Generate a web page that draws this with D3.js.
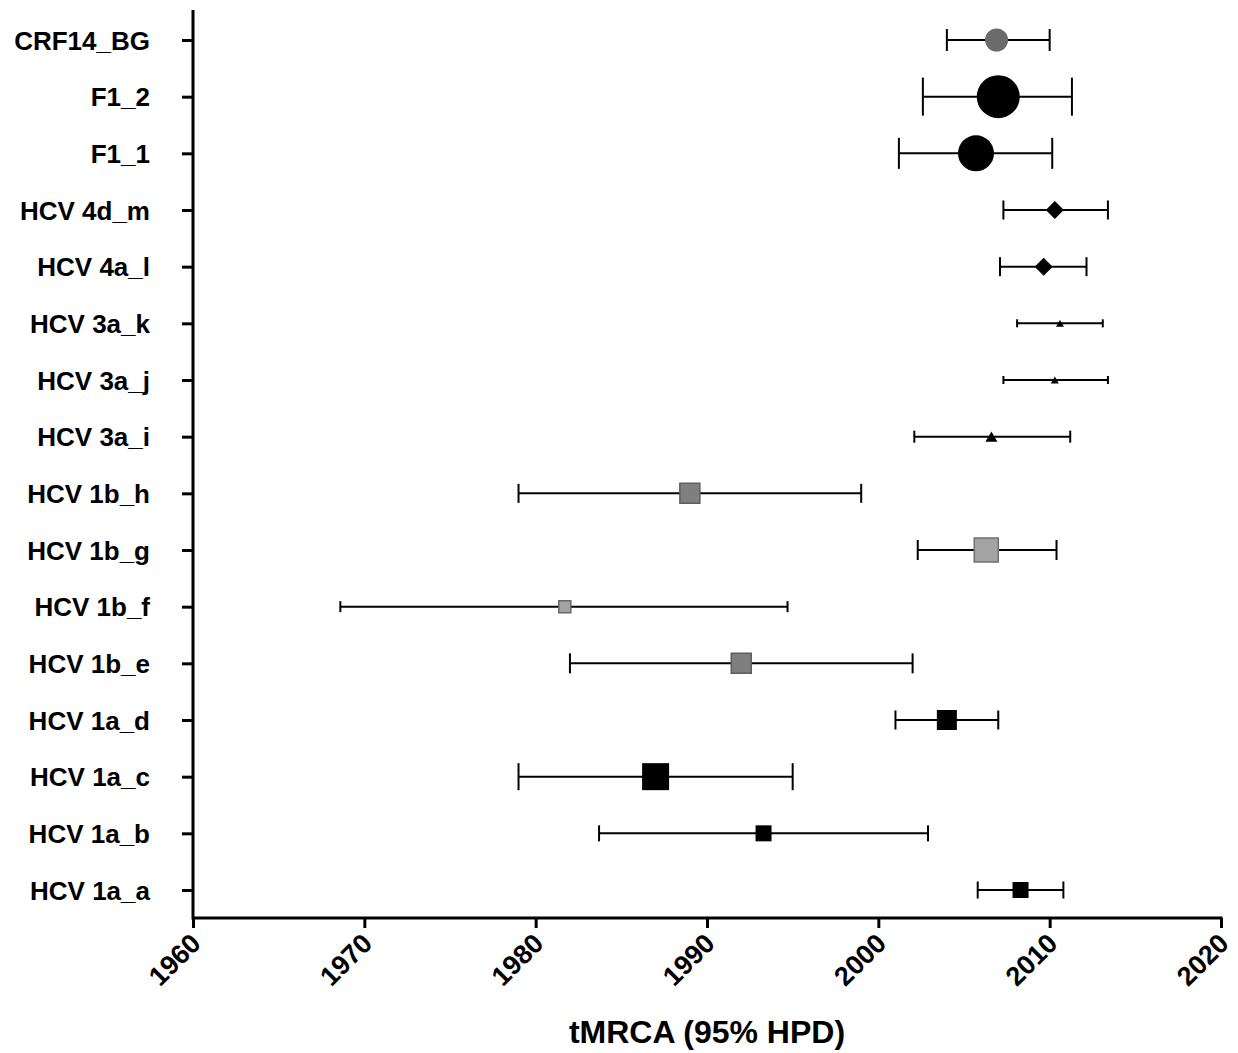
<!DOCTYPE html>
<html>
<head>
<meta charset="utf-8">
<script src="https://cdn.jsdelivr.net/npm/d3@7/dist/d3.min.js"></script>
<style>
  html, body { margin: 0; padding: 0; background: #ffffff; }
  svg { display: block; }
  text { font-family: "Liberation Sans", Arial, sans-serif; font-weight: bold; fill: #000; }
</style>
</head>
<body>
<script>
// ---- data ----
const categories = ["CRF14_BG", "F1_2", "F1_1", "HCV 4d_m", "HCV 4a_l", "HCV 3a_k", "HCV 3a_j", "HCV 3a_i",
                    "HCV 1b_h", "HCV 1b_g", "HCV 1b_f", "HCV 1b_e", "HCV 1a_d", "HCV 1a_c", "HCV 1a_b", "HCV 1a_a"];
const meanYear  = [2006.9, 2007.0, 2005.7, 2010.3, 2009.65, 2010.6, 2010.3, 2006.6,
                   1989.0, 2006.3, 1981.7, 1992.0, 2004.0, 1987.0, 1993.3, 2008.3];
const lowerHPD  = [2004.0, 2002.6, 2001.2, 2007.3, 2007.1, 2008.1, 2007.3, 2002.1,
                   1979.0, 2002.3, 1968.6, 1982.0, 2001.0, 1979.0, 1983.7, 2005.8];
const upperHPD  = [2010.0, 2011.3, 2010.15, 2013.4, 2012.15, 2013.1, 2013.4, 2011.2,
                   1999.0, 2010.4, 1994.7, 2002.0, 2007.0, 1995.0, 2002.9, 2010.8];
const xTickValues = [1960, 1970, 1980, 1990, 2000, 2010, 2020];
const xTitle = "tMRCA (95% HPD)";

// ---- styles (per row) ----
const markerShape = ["circle", "circle", "circle", "diamond", "diamond", "triangle", "triangle", "triangle",
                     "square", "square", "square", "square", "square", "square", "square", "square"];
const markerSize  = [23, 43, 36, 18, 18, 8, 8, 12, 20, 24, 12, 20, 20, 27, 16, 16];
const capSize     = [22, 38, 31, 19, 19, 8, 8, 12, 19, 20, 11, 20, 19, 27, 16, 17];
const markerFill  = ["#6b6b6b", "#000", "#000", "#000", "#000", "#000", "#000", "#000",
                     "#7f7f7f", "#a3a3a3", "#a3a3a3", "#7f7f7f", "#000", "#000", "#000", "#000"];
const markerStroke = ["none", "none", "none", "none", "none", "none", "none", "none",
                      "#5e5e5e", "#707070", "#666666", "#5e5e5e", "none", "none", "none", "none"];

const W = 1238, H = 1053;
const mLeft = 193, mRight = 1221, mTop = 10, mBottom = 918;

const svg = d3.select("body").append("svg").attr("width", W).attr("height", H);

const x = d3.scaleLinear().domain([1960, 2020]).range([mLeft, mRight]);
const y = d3.scalePoint().domain(categories).range([40, 890]);

const rows = categories.map((c, i) => ({
  name: c, mean: meanYear[i], lo: lowerHPD[i], hi: upperHPD[i],
  shape: markerShape[i], size: markerSize[i], cap: capSize[i],
  fill: markerFill[i], stroke: markerStroke[i]
}));

// ---- axes ----
const yAxis = d3.axisLeft(y).tickSize(11).tickPadding(32);
const gy = svg.append("g").attr("transform", `translate(${mLeft},0)`).call(yAxis);
gy.select(".domain").remove();
gy.selectAll(".tick line").attr("stroke", "#000").attr("stroke-width", 3);
gy.selectAll(".tick text").style("font-size", "26px").attr("dy", "0.35em");

const xAxis = d3.axisBottom(x).tickValues(xTickValues).tickFormat(d3.format("d")).tickSize(10).tickSizeOuter(0);
const gx = svg.append("g").attr("transform", `translate(0,${mBottom})`).call(xAxis);
gx.select(".domain").remove();
gx.selectAll(".tick line").attr("stroke", "#000").attr("stroke-width", 3);
gx.selectAll(".tick text")
  .style("font-size", "27px")
  .attr("text-anchor", "end")
  .attr("dy", null)
  .attr("y", 0)
  .attr("transform", "translate(9,27) rotate(-45)");

// axis lines
svg.append("line").attr("x1", mLeft).attr("x2", mLeft).attr("y1", mTop).attr("y2", mBottom + 1.5)
  .attr("stroke", "#000").attr("stroke-width", 3);
svg.append("line").attr("x1", mLeft).attr("x2", mRight + 1.5).attr("y1", mBottom).attr("y2", mBottom)
  .attr("stroke", "#000").attr("stroke-width", 3);

// x title
svg.append("text").attr("x", (mLeft + mRight) / 2).attr("y", 1043)
  .attr("text-anchor", "middle").style("font-size", "32px").text(xTitle);

// ---- error bars ----
const eb = svg.append("g").attr("stroke", "#000").attr("stroke-width", 2);
eb.selectAll("line.h").data(rows).join("line").attr("class", "h")
  .attr("x1", d => x(d.lo)).attr("x2", d => x(d.hi))
  .attr("y1", d => y(d.name)).attr("y2", d => y(d.name));
eb.selectAll("line.cl").data(rows).join("line").attr("class", "cl")
  .attr("x1", d => x(d.lo)).attr("x2", d => x(d.lo))
  .attr("y1", d => y(d.name) - d.cap / 2).attr("y2", d => y(d.name) + d.cap / 2);
eb.selectAll("line.cr").data(rows).join("line").attr("class", "cr")
  .attr("x1", d => x(d.hi)).attr("x2", d => x(d.hi))
  .attr("y1", d => y(d.name) - d.cap / 2).attr("y2", d => y(d.name) + d.cap / 2);

// ---- markers ----
function markerPath(d) {
  const cx = x(d.mean), cy = y(d.name), s = d.size / 2;
  const p = d3.path();
  if (d.shape === "circle") {
    p.moveTo(cx + s, cy); p.arc(cx, cy, s, 0, 2 * Math.PI);
  } else if (d.shape === "diamond") {
    p.moveTo(cx, cy - s); p.lineTo(cx + s, cy); p.lineTo(cx, cy + s); p.lineTo(cx - s, cy);
  } else if (d.shape === "triangle") {
    const h = d.size * 0.85;
    p.moveTo(cx, cy - h / 2); p.lineTo(cx + s, cy + h / 2); p.lineTo(cx - s, cy + h / 2);
  } else {
    p.rect(cx - s, cy - s, d.size, d.size);
  }
  p.closePath();
  return p.toString();
}
svg.append("g").selectAll("path").data(rows).join("path")
  .attr("d", markerPath)
  .attr("fill", d => d.fill)
  .attr("stroke", d => d.stroke)
  .attr("stroke-width", d => d.stroke === "none" ? 0 : 1.5);
</script>
</body>
</html>
